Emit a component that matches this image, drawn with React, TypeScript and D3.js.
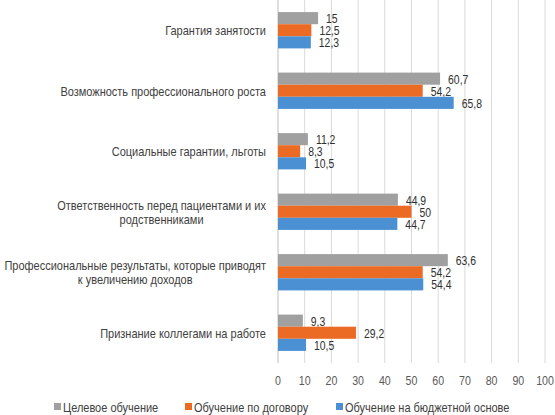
import React from "react";
import * as d3 from "d3";

const categories: string[][] = [
  ["Гарантия занятости"],
  ["Возможность профессионального роста"],
  ["Социальные гарантии, льготы"],
  ["Ответственность перед пациентами и их", "родственниками"],
  ["Профессиональные результаты, которые приводят", "к увеличению доходов"],
  ["Признание коллегами на работе"],
];
const seriesNames = ["Целевое обучение", "Обучение по договору", "Обучение на бюджетной основе"];
const targeted = [15, 60.7, 11.2, 44.9, 63.6, 9.3];
const contract = [12.5, 54.2, 8.3, 50, 54.2, 29.2];
const budget = [12.3, 65.8, 10.5, 44.7, 54.4, 10.5];
const xTicks = [0, 10, 20, 30, 40, 50, 60, 70, 80, 90, 100];
const colors = ["#A0A0A0", "#EB6B24", "#4A90D3"];

const W = 555;
const H = 415;
const FAM = "'Liberation Sans', Arial, sans-serif";

let ctx: CanvasRenderingContext2D | null = null;
function measure(s: string, size: number): number {
  if (!ctx && typeof document !== "undefined") ctx = document.createElement("canvas").getContext("2d");
  if (!ctx) return s.length * size * 0.5;
  ctx.font = `${size}px 'Liberation Sans', Arial, sans-serif`;
  return ctx.measureText(s).width;
}

type STProps = { x: number; y: number; size: number; sx: number; anchor?: string; fill: string; children: React.ReactNode };
function ST({ x, y, size, sx, anchor = "start", fill, children }: STProps) {
  return (
    <text
      transform={`translate(${x},${y}) scale(${sx},1)`}
      textAnchor={anchor as any}
      dominantBaseline="central"
      fontSize={size}
      fill={fill}
      fontFamily={FAM}
    >
      {children}
    </text>
  );
}

export default function App() {
  const series = [targeted, contract, budget];
  const x = d3.scaleLinear().domain([0, 100]).range([278, 545]);
  const y = d3
    .scaleBand<number>()
    .domain(d3.range(categories.length))
    .range([0, 363])
    .paddingInner(0.4)
    .paddingOuter(0.2);
  const inner = d3.scaleBand<number>().domain([0, 1, 2]).range([0, y.bandwidth()]);
  const fmt = (v: number) => String(v).replace(".", ",");

  const catSize = 12.5;
  const catSx = 0.88;
  const labelRight = 266;

  return (
    <svg width={W} height={H} style={{ position: "absolute", left: 0, top: 0, background: "#fff" }}>
      {xTicks.map((t) => (
        <line key={t} x1={x(t)} x2={x(t)} y1={0} y2={363} stroke={t === 0 ? "#BFBFBF" : "#D9D9D9"} strokeWidth={1} />
      ))}
      {xTicks.map((t) => (
        <ST key={"t" + t} x={x(t)} y={380} size={12.5} sx={0.85} anchor="middle" fill="#595959">
          {t}
        </ST>
      ))}
      {categories.map((lines, i) => {
        const cy = (y(i) as number) + y.bandwidth() / 2;
        const lh = 14;
        const y0 = cy - ((lines.length - 1) * lh) / 2;
        const w0 = measure(lines[0], catSize) * catSx;
        const center = labelRight - w0 / 2;
        return (
          <g key={"c" + i}>
            {lines.map((l, j) => (
              <ST key={j} x={center} y={y0 + j * lh} size={catSize} sx={catSx} anchor="middle" fill="#404040">
                {l}
              </ST>
            ))}
          </g>
        );
      })}
      {series.map((vals, s) =>
        vals.map((v, i) => {
          const by = (y(i) as number) + (inner(s) as number);
          return (
            <g key={s + "-" + i}>
              <rect x={x(0)} y={by} width={x(v) - x(0)} height={inner.bandwidth()} fill={colors[s]} />
              <ST x={x(v) + 8} y={by + inner.bandwidth() / 2} size={13} sx={0.8} fill="#303030">
                {fmt(v)}
              </ST>
            </g>
          );
        })
      )}
      {[54, 185, 336].map((lx, s) => (
        <g key={"l" + s}>
          <rect x={lx} y={403} width={7} height={7} fill={colors[s]} />
          <ST x={lx + 9} y={407} size={12.5} sx={0.88} fill="#404040">
            {seriesNames[s]}
          </ST>
        </g>
      ))}
    </svg>
  );
}
